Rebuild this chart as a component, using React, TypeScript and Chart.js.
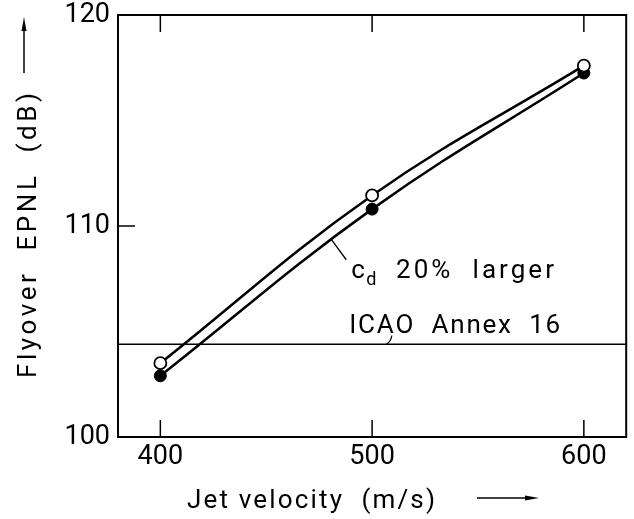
import React, { useEffect, useRef } from 'react';
import { Chart, registerables } from 'chart.js';

Chart.register(...registerables);

// ---- data ----
const jetVelocity = [400, 500, 600];
const epnlBaseline = [103.5, 111.45, 117.6];
const epnlCdLarger = [102.9, 110.8, 117.25];
const icaoVelocityRange = [380, 620];
const icaoLimit = [104.4, 104.4];
const xTickValues = [400, 500, 600];
const yTickValues = [100, 110, 120];
const xTitle = 'Jet velocity  (m/s)';
const yTitle = 'Flyover  EPNL  (dB)';
const cdLabelMain = 'c';
const cdLabelSub = 'd';
const cdLabelRest = '20%  larger';
const icaoLabel = 'ICAO  Annex  16';

const FONT = 'Roboto, "DejaVu Sans", sans-serif';

function fitText(ctx: CanvasRenderingContext2D, text: string, x: number, y: number, width: number) {
  (ctx as any).letterSpacing = '0px';
  ctx.textAlign = 'left';
  const w = ctx.measureText(text).width;
  const s = Math.max(0, (width - w) / Math.max(1, text.length - 1));
  (ctx as any).letterSpacing = s + 'px';
  ctx.fillText(text, x, y);
  (ctx as any).letterSpacing = '0px';
}

function arrowHead(ctx: CanvasRenderingContext2D, tipX: number, tipY: number, dx: number, dy: number, len: number, half: number) {
  const px = -dy, py = dx;
  ctx.beginPath();
  ctx.moveTo(tipX, tipY);
  ctx.lineTo(tipX - dx * len + px * half, tipY - dy * len + py * half);
  ctx.lineTo(tipX - dx * len - px * half, tipY - dy * len - py * half);
  ctx.closePath();
  ctx.fill();
}

const decorPlugin = {
  id: 'decor',
  afterDraw(chart: any) {
    const { ctx, chartArea } = chart;
    const { left, right, top, bottom } = chartArea;
    const xs = chart.scales.x;
    const ys = chart.scales.y;
    ctx.save();
    ctx.strokeStyle = '#000';
    ctx.fillStyle = '#000';
    // frame
    ctx.lineWidth = 2;
    ctx.strokeRect(left, top, right - left, bottom - top);
    // inward ticks
    const tl = 17;
    ctx.lineWidth = 1.5;
    xTickValues.forEach((v) => {
      const px = xs.getPixelForValue(v);
      ctx.beginPath();
      ctx.moveTo(px, bottom);
      ctx.lineTo(px, bottom - tl);
      ctx.moveTo(px, top);
      ctx.lineTo(px, top + tl);
      ctx.stroke();
    });
    yTickValues.forEach((v) => {
      const py = ys.getPixelForValue(v);
      ctx.beginPath();
      ctx.moveTo(left, py);
      ctx.lineTo(left + tl, py);
      ctx.stroke();
    });

    // annotation: c_d 20% larger
    ctx.lineWidth = 1.3;
    ctx.beginPath();
    ctx.moveTo(xs.getPixelForValue(480.8), ys.getPixelForValue(109.35));
    ctx.lineTo(xs.getPixelForValue(487.8), ys.getPixelForValue(108.4));
    ctx.stroke();
    ctx.textBaseline = 'alphabetic';
    ctx.font = `26px ${FONT}`;
    const cx = xs.getPixelForValue(490.1);
    const cy = ys.getPixelForValue(107.54);
    ctx.textAlign = 'left';
    ctx.fillText(cdLabelMain, cx, cy);
    ctx.font = `18px ${FONT}`;
    ctx.fillText(cdLabelSub, cx + 15, cy + 7);
    ctx.font = `26px ${FONT}`;
    fitText(ctx, cdLabelRest, xs.getPixelForValue(511.3), cy, 158);

    // annotation: ICAO Annex 16
    const ix = xs.getPixelForValue(489.2);
    const iy = ys.getPixelForValue(104.93);
    fitText(ctx, icaoLabel, ix, iy, 211);
    ctx.lineWidth = 1.2;
    ctx.beginPath();
    ctx.moveTo(xs.getPixelForValue(506.8), ys.getPixelForValue(104.4));
    ctx.quadraticCurveTo(xs.getPixelForValue(508.8), ys.getPixelForValue(104.5), xs.getPixelForValue(509.3), ys.getPixelForValue(104.8));
    ctx.stroke();

    // x title + arrow
    ctx.font = `26px ${FONT}`;
    fitText(ctx, xTitle, 187, 508, 248);
    ctx.lineWidth = 1.5;
    ctx.beginPath();
    ctx.moveTo(477, 498);
    ctx.lineTo(528, 498);
    ctx.stroke();
    arrowHead(ctx, 539, 498, 1, 0, 14, 2.5);

    // y title + arrow
    ctx.save();
    ctx.translate(36, 378);
    ctx.rotate(-Math.PI / 2);
    fitText(ctx, yTitle, 0, 0, 285);
    ctx.restore();
    ctx.beginPath();
    ctx.moveTo(24, 73);
    ctx.lineTo(24, 28);
    ctx.stroke();
    arrowHead(ctx, 24, 17, 0, -1, 14, 2.5);

    ctx.restore();
  },
};

export default function App() {
  const canvasRef = useRef<HTMLCanvasElement | null>(null);

  useEffect(() => {
    const canvas = canvasRef.current;
    if (!canvas) return;
    const tickFont = { family: FONT, size: 27, lineHeight: 1 };
    const chart = new Chart(canvas, {
      type: 'line',
      data: {
        datasets: [
          {
            label: 'Baseline',
            data: jetVelocity.map((x, i) => ({ x, y: epnlBaseline[i] })),
            borderColor: '#000',
            borderWidth: 2.5,
            tension: 0.4,
            pointRadius: 6,
            pointBackgroundColor: '#fff',
            pointBorderColor: '#000',
            pointBorderWidth: 1.8,
          },
          {
            label: 'cd 20% larger',
            data: jetVelocity.map((x, i) => ({ x, y: epnlCdLarger[i] })),
            borderColor: '#000',
            borderWidth: 2.5,
            tension: 0.4,
            pointRadius: 6,
            pointBackgroundColor: '#000',
            pointBorderColor: '#000',
            pointBorderWidth: 1,
          },
          {
            label: 'ICAO Annex 16',
            data: icaoVelocityRange.map((x, i) => ({ x, y: icaoLimit[i] })),
            borderColor: '#000',
            borderWidth: 1.5,
            tension: 0,
            pointRadius: 0,
          },
        ],
      },
      options: {
        responsive: false,
        animation: false,
        layout: { padding: { top: 15, right: 6, left: 0, bottom: 0 } },
        plugins: { legend: { display: false }, tooltip: { enabled: false } },
        scales: {
          x: {
            type: 'linear',
            min: 380,
            max: 620,
            afterBuildTicks: (s: any) => {
              s.ticks = xTickValues.map((v) => ({ value: v }));
            },
            afterFit: (s: any) => {
              s.height = 82;
              s.paddingLeft = 0;
              s.paddingRight = 0;
            },
            grid: { display: false, drawTicks: false },
            border: { display: false },
            ticks: { font: tickFont, color: '#000', padding: 7, maxRotation: 0 },
          },
          y: {
            type: 'linear',
            min: 100,
            max: 120,
            afterBuildTicks: (s: any) => {
              s.ticks = yTickValues.map((v) => ({ value: v }));
            },
            afterFit: (s: any) => {
              s.width = 118;
              s.paddingTop = 0;
              s.paddingBottom = 0;
            },
            grid: { display: false, drawTicks: false },
            border: { display: false },
            ticks: { font: tickFont, color: '#000', padding: 8 },
          },
        },
      },
      plugins: [decorPlugin],
    } as any);
    return () => chart.destroy();
  }, []);

  return (
    <div style={{ position: 'absolute', left: 0, top: 0, width: 634, height: 519, background: '#fff' }}>
      <canvas ref={canvasRef} width={634} height={519} style={{ display: 'block' }} />
    </div>
  );
}
